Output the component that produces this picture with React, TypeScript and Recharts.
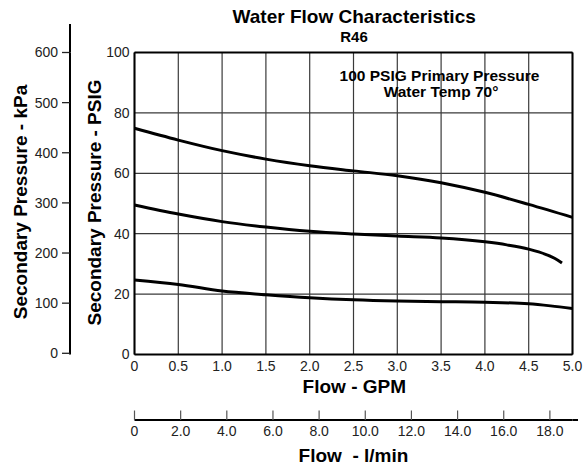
import {
  CartesianGrid,
  ComposedChart,
  Label,
  Line,
  ReferenceLine,
  XAxis,
  YAxis,
} from 'recharts';

// ─── Data ────────────────────────────────────────────────────────────────────

const gpmTicks = [0, 0.5, 1.0, 1.5, 2.0, 2.5, 3.0, 3.5, 4.0, 4.5, 5.0];
const psigTicks = [0, 20, 40, 60, 80, 100];
const kpaTicks = [0, 100, 200, 300, 400, 500, 600];
const lpmTicks = [0, 2, 4, 6, 8, 10, 12, 14, 16, 18];

const upperFlow = [0, 0.5, 1.0, 1.5, 2.0, 2.5, 3.0, 3.5, 4.0, 4.5, 5.0];
const upperPsig = [74.9, 71.0, 67.5, 64.7, 62.5, 60.8, 59.2, 56.9, 53.7, 49.7, 45.4];

const middleFlow = [0, 0.5, 1.0, 1.5, 2.0, 2.5, 3.0, 3.5, 4.0, 4.25, 4.5, 4.7, 4.8, 4.88];
const middlePsig = [49.5, 46.5, 44.0, 42.2, 40.8, 39.9, 39.2, 38.6, 37.3, 36.3, 34.9, 33.1, 31.8, 30.3];

const lowerFlow = [0, 0.5, 1.0, 1.5, 2.0, 2.5, 3.0, 3.5, 4.0, 4.5, 4.75, 5.0];
const lowerPsig = [24.7, 23.2, 21.0, 19.8, 18.8, 18.1, 17.7, 17.5, 17.3, 16.8, 16.1, 15.2];

// ─── Styles ──────────────────────────────────────────────────────────────────

const FONT = '"Liberation Sans", Arial, Helvetica, sans-serif';
const TICK_STYLE = { fill: '#222', fontSize: 14, fontFamily: FONT };
const TITLE_SIZE = 19;

const toPoints = (xs: number[], ys: number[]) => xs.map((x, i) => ({ x, y: ys[i] }));

const upperData = toPoints(upperFlow, upperPsig);
const middleData = toPoints(middleFlow, middlePsig);
const lowerData = toPoints(lowerFlow, lowerPsig);

function formatFlow(value: number): string {
  return value === 0 ? '0' : value.toFixed(1);
}

// l/min ticks point up from the axis, labels sit below it
function LpmTick(props: any) {
  const { x, y, payload } = props;
  return (
    <g>
      <line x1={x} x2={x} y1={y - 9.5} y2={y} stroke="#555" strokeWidth={1.2} />
      <text
        x={x}
        y={y + 15.5}
        textAnchor="middle"
        fontSize={14}
        fontFamily={FONT}
        fill="#222"
      >
        {formatFlow(payload.value)}
      </text>
    </g>
  );
}

function KpaTitle(props: any) {
  const vb = props.viewBox;
  const axisX = vb.x + vb.width;
  return (
    <g>
      <line x1={axisX} x2={axisX} y1={vb.y - 28.5} y2={vb.y} stroke="#000" strokeWidth={2} />
      <text
        x={26.5}
        y={202}
        transform="rotate(-90 26.5 202)"
        textAnchor="middle"
        fontSize={TITLE_SIZE}
        fontWeight="bold"
        fontFamily={FONT}
        fill="#000"
      >
        Secondary Pressure - kPa
      </text>
    </g>
  );
}

function PsigTitle() {
  return (
    <text
      x={101}
      y={202.5}
      transform="rotate(-90 101 202.5)"
      textAnchor="middle"
      fontSize={TITLE_SIZE}
      fontWeight="bold"
      fontFamily={FONT}
      fill="#000"
    >
      Secondary Pressure - PSIG
    </text>
  );
}

function GpmTitle() {
  return (
    <text
      x={354.3}
      y={393.3}
      textAnchor="middle"
      fontSize={TITLE_SIZE}
      fontWeight="bold"
      fontFamily={FONT}
      fill="#000"
    >
      Flow - GPM
    </text>
  );
}

function LpmTitle(props: any) {
  const vb = props.viewBox;
  const right = vb.x + vb.width;
  return (
    <g>
      <line x1={right} x2={right + 5.5} y1={vb.y} y2={vb.y} stroke="#000" strokeWidth={2} />
      <text
        x={353.5}
        y={461.5}
        textAnchor="middle"
        fontSize={TITLE_SIZE}
        fontWeight="bold"
        fontFamily={FONT}
        fill="#000"
        style={{ whiteSpace: 'pre' }}
      >
        {'Flow  - l/min'}
      </text>
    </g>
  );
}

const layer = { position: 'absolute' as const, left: 0, top: 0 };

export default function App() {
  return (
    <div style={{ position: 'absolute', left: 0, top: 0, width: 585, height: 464, background: '#fff' }}>
      <div style={layer}>
        <ComposedChart
          width={585}
          height={464}
          margin={{ top: 52.5, right: 12.5, bottom: 44, left: 0 }}
        >
          <CartesianGrid xAxisId="gpm" yAxisId="axisPsig" stroke="#3a3a3a" strokeWidth={1.2} />

          <XAxis
            xAxisId="gpm"
            type="number"
            dataKey="x"
            domain={[0, 5]}
            ticks={gpmTicks}
            tickFormatter={formatFlow}
            interval={0}
            height={65.5}
            tickLine={false}
            tickSize={0}
            tickMargin={7}
            axisLine={{ stroke: '#000', strokeWidth: 2 }}
            tick={TICK_STYLE}
          >
            <Label content={<GpmTitle />} />
          </XAxis>

          <YAxis
            yAxisId="kpa"
            type="number"
            domain={[-2.4, 600]}
            allowDataOverflow
            ticks={kpaTicks}
            interval={0}
            width={70}
            tickLine={{ stroke: '#222', strokeWidth: 1.3 }}
            tickSize={8}
            tickMargin={4}
            axisLine={{ stroke: '#000', strokeWidth: 2 }}
            tick={TICK_STYLE}
          >
            <Label content={<KpaTitle />} />
          </YAxis>

          <YAxis
            yAxisId="axisPsig"
            type="number"
            domain={[0, 100]}
            ticks={psigTicks}
            interval={0}
            width={64.5}
            tickLine={false}
            tickSize={0}
            tickMargin={5}
            axisLine={{ stroke: '#000', strokeWidth: 2 }}
            tick={TICK_STYLE}
          >
            <Label content={<PsigTitle />} />
          </YAxis>

          <ReferenceLine xAxisId="gpm" yAxisId="axisPsig" y={100} stroke="#000" strokeWidth={2} />
          <ReferenceLine xAxisId="gpm" yAxisId="axisPsig" x={5} stroke="#000" strokeWidth={2} />

          <Line
            xAxisId="gpm"
            yAxisId="axisPsig"
            data={upperData}
            dataKey="y"
            type="monotone"
            stroke="#000"
            strokeWidth={3}
            dot={false}
            isAnimationActive={false}
          />
          <Line
            xAxisId="gpm"
            yAxisId="axisPsig"
            data={middleData}
            dataKey="y"
            type="monotone"
            stroke="#000"
            strokeWidth={3}
            dot={false}
            isAnimationActive={false}
          />
          <Line
            xAxisId="gpm"
            yAxisId="axisPsig"
            data={lowerData}
            dataKey="y"
            type="monotone"
            stroke="#000"
            strokeWidth={3}
            dot={false}
            isAnimationActive={false}
          />
        </ComposedChart>
      </div>

      {/* second flow scale in l/min, drawn as its own numeric axis */}
      <div style={{ ...layer, pointerEvents: 'none' }}>
        <ComposedChart
          layout="vertical"
          width={585}
          height={464}
          margin={{ top: 0, right: 12.5, bottom: 0, left: 134.5 }}
        >
          <XAxis
            xAxisId="lpm"
            type="number"
            domain={[0, 18.98]}
            allowDataOverflow
            ticks={lpmTicks}
            interval={0}
            height={44}
            tickLine={false}
            tickSize={0}
            tickMargin={0}
            axisLine={{ stroke: '#000', strokeWidth: 2 }}
            tick={<LpmTick />}
          >
            <Label content={<LpmTitle />} />
          </XAxis>
        </ComposedChart>
      </div>

      <svg
        width={585}
        height={464}
        style={{ ...layer, pointerEvents: 'none' }}
      >
        <g fontFamily={FONT} fontWeight="bold" fill="#000" textAnchor="middle">
          <text x={354.2} y={22.7} fontSize={19}>Water Flow Characteristics</text>
          <text x={354} y={42.3} fontSize={15}>R46</text>
          <text x={439.5} y={81} fontSize={15.5}>100 PSIG Primary Pressure</text>
          <text x={441} y={96.8} fontSize={15.5}>Water Temp 70°</text>
        </g>
      </svg>
    </div>
  );
}
